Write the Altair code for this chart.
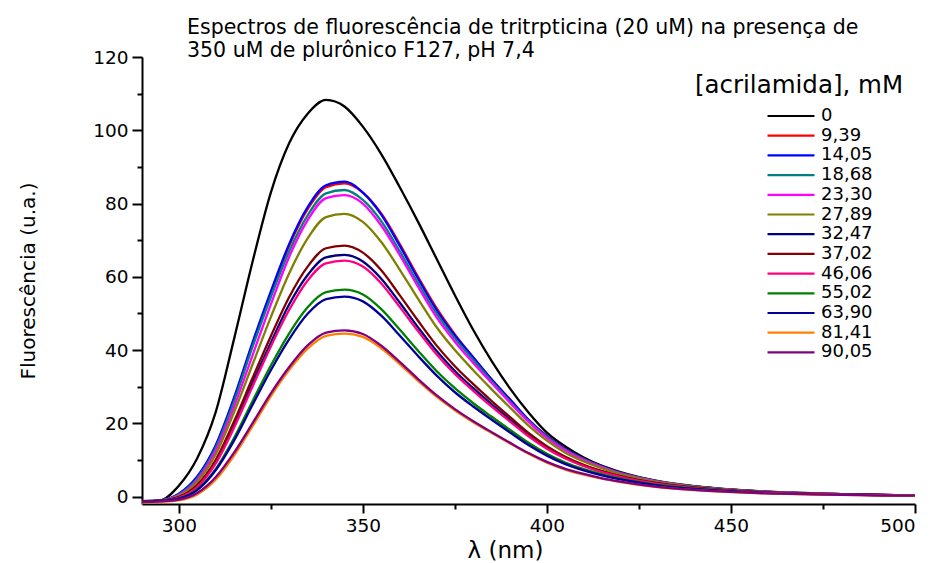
import altair as alt
import pandas as pd

wavelength = [290, 295, 300, 305, 310, 315, 320, 325, 330, 335, 340, 345, 350, 355, 360,
              365, 370, 375, 380, 385, 390, 395, 400, 405, 410, 415, 420, 430, 440, 450,
              460, 470, 480, 490, 500]

labels = ["0", "9,39", "14,05", "18,68", "23,30", "27,89", "32,47", "37,02",
          "46,06", "55,02", "63,90", "81,41", "90,05"]
colors = ["#000000", "#FF0000", "#0000FF", "#008080", "#FF00FF", "#808000", "#000080",
          "#800000", "#FF0080", "#008000", "#00009A", "#FF8000", "#800080"]

s_0 = [-1.3, -1.0, 3.0, 10.5, 23, 43, 64, 83, 96.5, 104.5, 108.3, 106.5, 101, 93.5, 84.5,
       75, 65, 55, 45.5, 37, 29.5, 23, 17.5, 13.7, 10.7, 8.4, 6.7, 4.3, 2.9, 2.0,
       1.4, 1.0, 0.7, 0.5, 0.3]
s_9_39 = [-1.2, -1.0, 0.7, 5.3, 13.7, 26.6, 41.5, 55.5, 68.5, 78.5, 84.5, 85.5, 83, 77.3, 69,
          60, 51.5, 44.3, 38, 32, 26.5, 21, 16.6, 13, 10.3, 8.2, 6.5, 4.2, 2.8, 1.9,
          1.3, 0.95, 0.7, 0.5, 0.35]
s_14_05 = [-1.2, -1.0, 0.8, 5.5, 14, 27, 42, 56, 69, 79, 85, 86, 83, 77, 68.5,
           59.5, 51, 44, 38, 32, 26.5, 21, 16.5, 13, 10.3, 8.2, 6.5, 4.2, 2.8, 1.9,
           1.3, 0.95, 0.7, 0.5, 0.35]
s_18_68 = [-1.2, -1.0, 0.6, 5.0, 13.3, 26, 40.8, 54.5, 67, 76.8, 82.8, 83.7, 81, 75.2, 67,
           58.3, 50, 43.2, 37.3, 31.5, 26, 20.7, 16.3, 12.8, 10.2, 8.1, 6.4, 4.2, 2.8, 1.9,
           1.3, 0.95, 0.7, 0.5, 0.35]
s_23_30 = [-1.3, -1.0, 0.4, 4.5, 12.5, 24.5, 38.5, 52.5, 65.5, 75.5, 81.5, 82.3, 80, 74, 66,
           57.3, 49, 42.3, 36.5, 31, 25.6, 20.4, 16, 12.6, 10, 8, 6.3, 4.1, 2.7, 1.85,
           1.3, 0.95, 0.7, 0.5, 0.35]
s_27_89 = [-1.3, -1.1, 0.2, 4.0, 11.5, 23, 36, 49, 61, 70.5, 76.3, 77.2, 75, 69.5, 62,
           54, 46.3, 40, 34.5, 29.3, 24.3, 19.4, 15.3, 12, 9.6, 7.7, 6.1, 4.0, 2.7, 1.8,
           1.25, 0.9, 0.65, 0.48, 0.33]
s_32_47 = [-1.3, -1.1, -0.2, 3.0, 9.5, 19.5, 31, 42, 52.5, 60.5, 65.3, 66, 64.2, 59.5, 53,
           46.2, 39.8, 34.3, 29.6, 25.2, 21, 16.9, 13.4, 10.6, 8.5, 6.9, 5.5, 3.6, 2.4, 1.65,
           1.15, 0.85, 0.6, 0.45, 0.3]
s_37_02 = [-1.3, -1.1, -0.1, 3.2, 10, 20.5, 32.3, 43.8, 54.5, 62.8, 67.8, 68.5, 66.6, 61.8, 55,
           48, 41.3, 35.6, 30.7, 26.1, 21.7, 17.4, 13.8, 10.9, 8.7, 7.0, 5.6, 3.7, 2.5, 1.7,
           1.2, 0.85, 0.62, 0.45, 0.3]
s_46_06 = [-1.4, -1.2, -0.3, 2.6, 9.0, 18.8, 30, 41, 51, 59, 63.7, 64.4, 62.8, 58.2, 51.8,
           45.2, 38.9, 33.5, 28.9, 24.6, 20.5, 16.5, 13.1, 10.4, 8.3, 6.7, 5.4, 3.5, 2.35, 1.6,
           1.1, 0.8, 0.6, 0.43, 0.3]
s_55_02 = [-1.4, -1.2, -0.5, 2.0, 7.5, 16, 26, 35.8, 44.6, 51.7, 55.8, 56.5, 55.2, 51.2, 45.6,
           39.8, 34.3, 29.6, 25.5, 21.8, 18.2, 14.7, 11.7, 9.3, 7.5, 6.1, 4.9, 3.2, 2.2, 1.5,
           1.05, 0.78, 0.57, 0.42, 0.3]
s_63_90 = [-1.4, -1.2, -0.5, 1.8, 7.2, 15.3, 25, 34.5, 43, 49.9, 53.9, 54.6, 53.3, 49.4, 44,
           38.4, 33.1, 28.5, 24.6, 21, 17.5, 14.1, 11.2, 8.9, 7.2, 5.8, 4.7, 3.1, 2.1, 1.45,
           1.0, 0.75, 0.55, 0.4, 0.28]
s_81_41 = [-1.6, -1.4, -1.0, 0.6, 4.6, 11.2, 19.2, 27.4, 34.6, 40.4, 43.9, 44.5, 43.6, 40.5, 36.2,
           31.6, 27.3, 23.6, 20.3, 17.4, 14.5, 11.7, 9.3, 7.4, 6.0, 4.9, 4.0, 2.6, 1.8, 1.25,
           0.88, 0.66, 0.48, 0.36, 0.25]
s_90_05 = [-1.5, -1.3, -0.8, 1.0, 5.3, 12, 20, 28.2, 35.4, 41.3, 44.8, 45.4, 44.4, 41.2, 36.8,
           32.1, 27.7, 23.9, 20.6, 17.6, 14.7, 11.9, 9.5, 7.6, 6.2, 5.0, 4.1, 2.7, 1.85, 1.3,
           0.9, 0.68, 0.5, 0.37, 0.26]

series = [s_0, s_9_39, s_14_05, s_18_68, s_23_30, s_27_89, s_32_47, s_37_02,
          s_46_06, s_55_02, s_63_90, s_81_41, s_90_05]

title_lines = ["Espectros de fluorescência de tritrpticina (20 uM) na presença de",
               "\u00a0350 uM de plurônico F127, pH 7,4"]
legend_title = "[acrilamida], mM"

rows = []
for order, (lab, vals) in enumerate(zip(labels, series)):
    for w, v in zip(wavelength, vals):
        rows.append({"wl": w, "fl": v, "conc": lab, "order": order})
df = pd.DataFrame(rows)

FONT = "DejaVu Sans"

lines = alt.Chart(df).mark_line(strokeWidth=2.3, interpolate="monotone").encode(
    x=alt.X("wl:Q", scale=alt.Scale(domain=[290, 500], nice=False, zero=False),
            axis=alt.Axis(title="λ (nm)", values=[300, 325, 350, 375, 400, 425, 450, 475, 500],
                          labelExpr="datum.value % 50 === 0 ? datum.label : ''",
                          tickSize={"condition": {"test": "datum.value % 50 === 0", "value": 9}, "value": 5},
                          grid=False, titleX=363, titleY=53, titleBaseline="alphabetic",
                          titleAlign="center", titleFontSize=23, labelPadding=3)),
    y=alt.Y("fl:Q", scale=alt.Scale(domain=[-2, 120], nice=False, zero=False),
            axis=alt.Axis(title="Fluorescência (u.a.)",
                          values=[0, 10, 20, 30, 40, 50, 60, 70, 80, 90, 100, 110, 120],
                          labelExpr="datum.value % 20 === 0 ? datum.label : ''",
                          tickSize={"condition": {"test": "datum.value % 20 === 0", "value": 10}, "value": 5},
                          grid=False, titlePadding=54, titleFontSize=20, labelPadding=4)),
    color=alt.Color("conc:N", sort=labels,
                    scale=alt.Scale(domain=labels, range=colors),
                    legend=alt.Legend(title=None, orient="none", legendX=640, legendY=50,
                                      symbolType="M-3,0H3", symbolSize=245, symbolStrokeWidth=2.2,
                                      labelFont=FONT, labelFontSize=18, labelOffset=21,
                                      rowPadding=1.7, padding=0, labelColor="black")),
    order=alt.Order("order:Q"),
)

legtitle = alt.Chart(pd.DataFrame({"t": [legend_title]})).mark_text(
    font=FONT, fontSize=24.5, align="center", baseline="middle", color="black"
).encode(x=alt.value(657), y=alt.value(29), text="t:N")

chart = alt.layer(lines, legtitle).properties(
    width=773, height=447,
    padding={"left": 142, "top": 57, "right": 21, "bottom": 59},
    autosize=alt.AutoSizeParams(type="none"),
    title=alt.TitleParams(text=title_lines, anchor="start", frame="group", dx=45, dy=17,
                          fontSize=20.5, font=FONT, fontWeight="normal", lineHeight=23,
                          offset=4, color="black"),
).configure_view(stroke=None).configure_axis(
    labelFont=FONT, labelFontSize=18.5, labelColor="black", titleFont=FONT,
    titleFontWeight="normal", titleColor="black", domainColor="black", domainWidth=2,
    tickColor="black", tickWidth=2
)

chart.save("out.html", embed_options={"renderer": "svg", "actions": False})
